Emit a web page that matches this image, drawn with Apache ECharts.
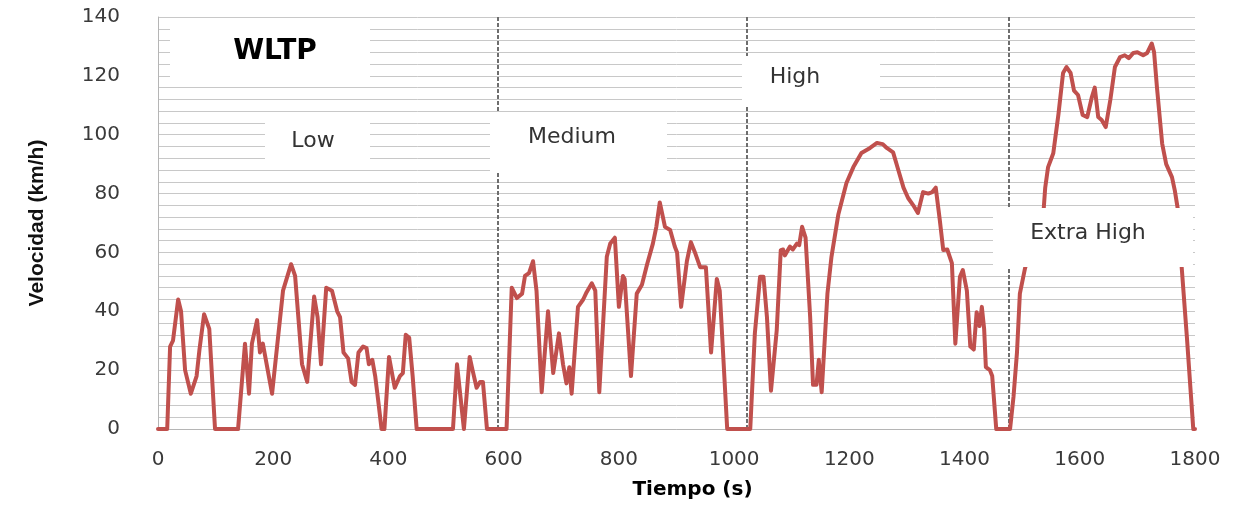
<!DOCTYPE html>
<html>
<head>
<meta charset="utf-8">
<script src="https://cdn.jsdelivr.net/npm/echarts@6/dist/echarts.min.js"></script>
<style>
html,body{margin:0;padding:0;background:#fff;}
#chart{width:1235px;height:510px;}
</style>
</head>
<body>
<div id="chart"></div>
<script>
// Time (s) and speed (km/h)
const timeS = [
  0,16,21,26,35,40,47,57,67,72,80,89,99,139,151,158,163,172,177,182,198,217,231,238,250,259,271,277,283,292,302,311,316,322,330,336,342,348,356,362,366,372,377,382,388,393,401,408,411,420,425,430,436,442,449,512,519,531,541,546,553,559,564,571,
  605,614,623,632,637,644,651,657,666,677,686,696,703,709,714,718,729,738,744,753,759,766,779,785,793,800,807,810,821,831,840,849,859,865,871,880,889,897,901,908,918,925,932,941,951,960,970,975,988,
  1028,1036,1045,1051,1057,1064,1074,1081,1085,1088,1097,1102,1109,1113,1118,1124,1132,1137,1143,1147,1152,1162,1169,1181,1195,1207,1221,1236,1248,1258,1265,1276,1285,1294,1302,1311,1319,1328,1337,1344,1350,1357,1363,1370,1378,1384,1392,1397,1404,1410,1416,1421,1426,1430,1434,1437,1444,1448,1455,
  1479,1485,1491,1496,1505,1537,1540,1545,1554,1563,1571,1577,1584,1590,1597,1605,1613,1621,1626,1632,1638,1645,1653,1661,1670,1678,1685,1693,1700,1710,1717,1725,1729,1734,1743,1750,1760,1765,1771,1777,1786,1797,1800
];
const speedKmh = [
  0,0,28,30,44,40,20,12,18,27,39,34,0,0,29,12,29,37,26,29,12,47,56,52,22,16,45,38,22,48,47,40,38,26,24,16,15,26,28,27.5,22,23.5,18,10,0,0,24.5,17,14,18,19,32,31,18,0,0,22,0,24.5,20,14,16,16,0,
  0,48,44.5,46,52,53,57,47,12.5,40,19,32.5,22,15.5,21,12,41.5,44,46.5,49.5,47,12.5,58.5,63,65,41.5,52,51,18,46,49,56,63,68.7,77,68.7,67.6,62,60,41.5,57,63.5,60,55,55,26,51,47,0,
  0,32.5,51.7,51.7,38,13,33.6,60.8,61,59,62,61,63,62.5,68.7,65,38,15,15,23.5,12.5,46,58.5,73,83.6,89,93.8,95.5,97.2,96.8,95.5,94,88,82,78.5,76,73.4,80.5,80,80.5,82,71,60.8,61,56.4,29,51.7,54,47,28,27,39.7,35,41.5,34,21,20,18,0,
  0,11,26,46,54.7,73.7,82,89,93.7,107,121,123,121,115,113.5,106.7,106,112.8,116,106,105,102.6,111.8,123,126.4,127,126,127.8,128,127,127.8,131,128,116,97,90,85.6,81,73.7,54.7,31,0,0
];
const phaseBoundaries = [589, 1022, 1477];
const phaseNames = ['Low', 'Medium', 'High', 'Extra High'];
const chartTitle = 'WLTP';
const xTitle = 'Tiempo (s)';
const yTitle = 'Velocidad (km/h)';

const seriesData = timeS.map((t, i) => [t, speedKmh[i]]);

const chart = echarts.init(document.getElementById('chart'), null, {renderer: 'canvas'});

// white annotation box: rect [x, y, w, h], text centred at (tx, ty)
function box(x, y, w, h, tx, ty, text, font, weight) {
  return {
    type: 'group', z: 100,
    children: [
      {type: 'rect', shape: {x: x, y: y, width: w, height: h}, style: {fill: '#ffffff'}, z: 100},
      {type: 'text', x: tx, y: ty, z: 101,
       style: {text: text, fill: weight === 'bold' ? '#000000' : '#333333', font: (weight || 'normal') + ' ' + font + 'px "DejaVu Sans"', textAlign: 'center', textVerticalAlign: 'middle'}}
    ]
  };
}

chart.setOption({
  animation: false,
  backgroundColor: '#ffffff',
  grid: {left: 158, right: 40, top: 17, bottom: 81, containLabel: false},
  xAxis: {
    type: 'value', min: 0, max: 1800, interval: 200,
    name: xTitle, nameLocation: 'middle', nameGap: 51,
    nameTextStyle: {fontFamily: 'DejaVu Sans', fontWeight: 'bold', fontSize: 20, color: '#000', padding: [0, 0, 0, 32]},
    axisLine: {show: true, lineStyle: {color: '#b5b5b5', width: 1}},
    axisTick: {show: false},
    splitLine: {show: false},
    axisLabel: {margin: 21, fontFamily: 'DejaVu Sans', fontSize: 20, color: '#3a3a3a', formatter: v => String(v)}
  },
  yAxis: {
    type: 'value', min: 0, max: 140, interval: 4,
    name: yTitle, nameLocation: 'middle', nameGap: 110, nameRotate: 90,
    nameTextStyle: {fontFamily: 'Liberation Sans', fontWeight: 'bold', fontSize: 21, color: '#111'},
    axisLine: {show: true, lineStyle: {color: '#b5b5b5', width: 1}},
    axisTick: {show: false},
    splitLine: {show: true, lineStyle: {color: '#c8c8c8', width: 1}},
    axisLabel: {
      margin: 38, fontFamily: 'DejaVu Sans', fontSize: 20, color: '#3a3a3a',
      formatter: v => (v % 20 === 0 ? String(v) : '')
    }
  },
  series: [{
    type: 'line',
    data: seriesData,
    showSymbol: false,
    smooth: false,
    lineStyle: {color: '#C0504D', width: 4, join: 'round', cap: 'round'},
    z: 5,
    markLine: {
      silent: true, symbol: 'none', label: {show: false},
      lineStyle: {color: '#6e6e6e', width: 2, type: [4, 2]},
      data: phaseBoundaries.map(b => ({xAxis: b}))
    }
  }],
  graphic: [
    box(170, 20, 200, 62, 275, 52, chartTitle, 28, 'bold'),
    box(265, 115, 105, 50, 313, 141, phaseNames[0], 22),
    box(490, 113, 177, 60, 572, 137, phaseNames[1], 22),
    box(742, 56, 138, 51, 795, 77, phaseNames[2], 22),
    box(993, 208, 200, 59, 1088, 233, phaseNames[3], 22)
  ]
});
</script>
</body>
</html>
